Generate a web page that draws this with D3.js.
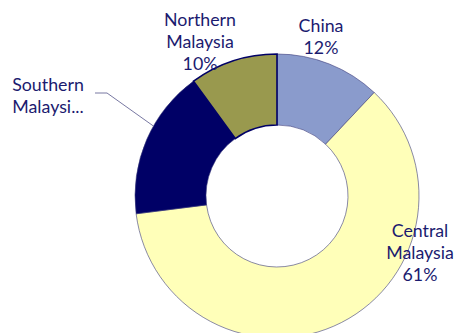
<!DOCTYPE html>
<html>
<head>
<meta charset="utf-8">
<script src="https://cdn.jsdelivr.net/npm/d3@7"></script>
<style>
  body { margin: 0; background: #fff; }
  svg text { font-family: Lato, "Open Sans", sans-serif; font-size: 17.8px; fill: #1b1b6f; }
</style>
</head>
<body>
<svg id="chart" width="457" height="333"></svg>
<script>
var regions = ['China', 'Central Malaysia', 'Southern Malaysia', 'Northern Malaysia'];
var shares = [12, 61, 17, 10];
var labelLines = [['China', '12%'], ['Central', 'Malaysia', '61%'], ['Southern', 'Malaysi...'], ['Northern', 'Malaysia', '10%']];
var sliceColors = ['#8a9bcc', '#ffffb9', '#000066', '#99994e'];

var cx = 277, cy = 196;
var outerR = 142, innerR = 71;
var lineH = 22;
// label anchors (middle of first line) relative to centre, tuned to the source
var labelPos = [[44, -170], [143, 35], [-229, -111], [-77, -176]];

var svg = d3.select('#chart');
var g = svg.append('g').attr('transform', 'translate(' + cx + ',' + cy + ')');

var pie = d3.pie().sort(null).value(function(d){ return d; });
var arc = d3.arc().innerRadius(innerR).outerRadius(outerR);
var arcs = pie(shares);

g.selectAll('path.slice')
  .data(arcs)
  .enter()
  .append('path')
  .attr('class', 'slice')
  .attr('d', arc)
  .attr('fill', function(d, i){ return sliceColors[i]; })
  .attr('stroke', function(d, i){ return i === 3 ? '#000066' : '#3b3b7a'; })
  .attr('stroke-width', function(d, i){ return i === 3 ? 1.6 : 0.6; });

// leader line for the truncated Southern label
var south = arcs[2];
var midA = south.startAngle + (south.endAngle - south.startAngle) * 0.6;
var edge = [Math.sin(midA) * outerR, -Math.cos(midA) * outerR];
var lp = labelPos[2];
g.append('polyline')
  .attr('points', [[lp[0] + 47, lp[1] + 8], [lp[0] + 59, lp[1] + 8], edge].map(function(p){ return p.join(','); }).join(' '))
  .attr('fill', 'none')
  .attr('stroke', '#55558a')
  .attr('stroke-width', 0.8);

labelLines.forEach(function(lines, i){
  var t = g.append('text')
    .attr('text-anchor', 'middle')
    .attr('x', labelPos[i][0])
    .attr('y', labelPos[i][1]);
  lines.forEach(function(s, j){
    t.append('tspan')
      .attr('x', labelPos[i][0])
      .attr('y', labelPos[i][1] + j * lineH)
      .attr('dy', '0.35em')
      .text(s);
  });
});
</script>
</body>
</html>
